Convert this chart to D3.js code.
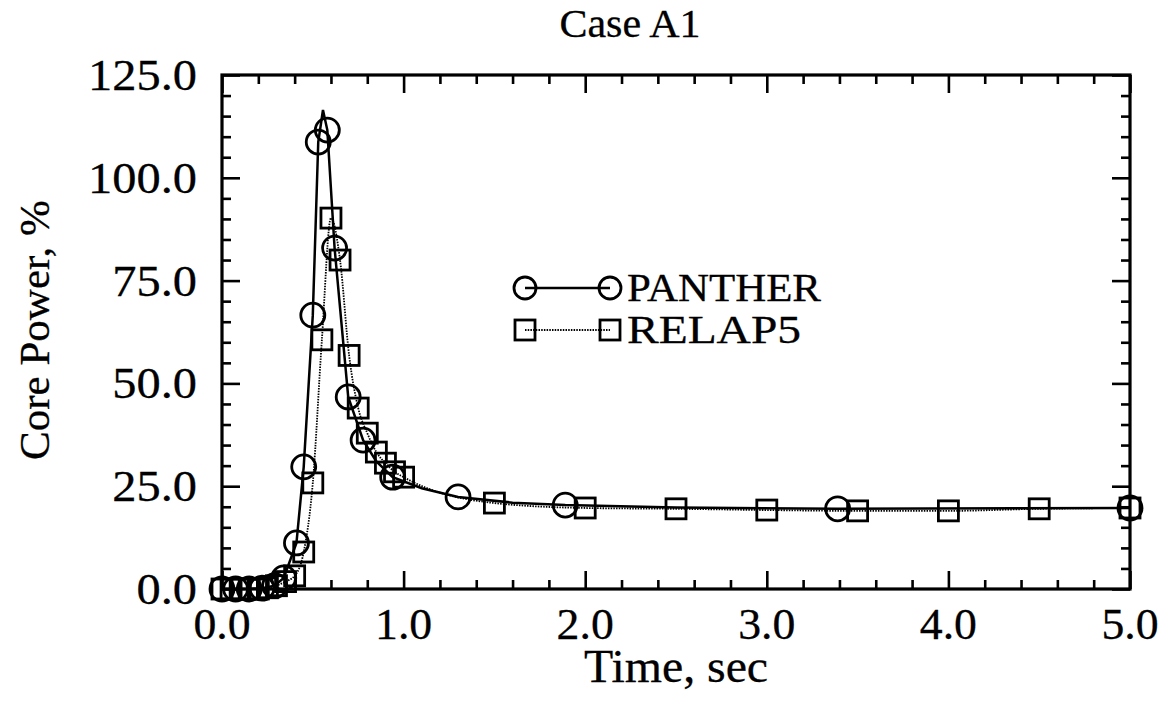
<!DOCTYPE html>
<html><head><meta charset="utf-8">
<script src="https://cdn.jsdelivr.net/npm/d3@7"></script>
<style>body{margin:0;background:#fff}</style>
</head><body><svg id="c" width="1169" height="702"></svg>
<script>
// PANTHER curve (solid line) and the flags of which vertices carry a circle marker
const pantherTime  = [0, 0.075, 0.15, 0.22, 0.29, 0.34, 0.41, 0.45, 0.50, 0.53, 0.556, 0.58, 0.62, 0.695, 0.777, 0.85, 0.94, 1.1, 1.3, 1.6, 1.89, 2.5, 3.39, 5.0];
const pantherPower = [0, 0, 0, 0.2, 0.8, 2.7, 11.2, 29.7, 66.6, 108.7, 116.5, 111.6, 82.9, 46.7, 36.2, 31.0, 27.2, 24.5, 22.4, 21.0, 20.4, 19.8, 19.5, 19.7];
const pantherMarked = [1, 1, 1, 1, 1, 1, 1, 1, 1, 1, 0, 1, 1, 1, 1, 0, 1, 0, 1, 0, 1, 0, 1, 1];
// RELAP5 (dotted line, square markers)
const relapTime  = [0, 0.05, 0.1, 0.15, 0.2, 0.25, 0.3, 0.35, 0.4, 0.45, 0.5, 0.55, 0.6, 0.65, 0.7, 0.75, 0.8, 0.85, 0.9, 0.95, 1.0, 1.5, 2.0, 2.5, 3.0, 3.5, 4.0, 4.5, 5.0];
const relapPower = [0, 0, 0, 0, 0, 0.3, 0.8, 1.8, 3.2, 9.0, 25.8, 60.6, 90.2, 80.0, 56.8, 44.0, 37.9, 33.3, 30.6, 28.5, 27.2, 20.9, 19.7, 19.5, 19.2, 19.0, 19.0, 19.5, 19.7];
const xTicks = [0, 1, 2, 3, 4, 5];
const xTickLabels = ["0.0", "1.0", "2.0", "3.0", "4.0", "5.0"];
const yTicks = [0, 25, 50, 75, 100, 125];
const yTickLabels = ["0.0", "25.0", "50.0", "75.0", "100.0", "125.0"];
const seriesNames = ["PANTHER", "RELAP5"];
const titleText = "Case A1";
const xTitle = "Time, sec";
const yTitle = "Core Power, %";

const FONT = "'Liberation Serif','Times New Roman',serif";
const svg = d3.select("#c");
const L = 222, R = 1130, T = 75, B = 589;
const x = d3.scaleLinear().domain([0, 5]).range([L, R]);
const y = d3.scaleLinear().domain([0, 125]).range([B, T]);

const xMinor = d3.range(0, 5.0001, 0.2).filter(v => Math.abs(v - Math.round(v)) > 1e-6);
const yMinor = d3.range(0, 125.0001, 5).filter(v => v % 25 !== 0);

function tickAxis(axisFn, scale, vals, size, tr) {
  const g = svg.append("g").attr("transform", tr)
    .call(axisFn(scale).tickValues(vals).tickSize(-size).tickFormat(""));
  g.select(".domain").remove();
  g.selectAll("line").attr("stroke", "#000").attr("stroke-width", 2.6);
}
[[xMinor, 9], [xTicks, 18]].forEach(([v, s]) => {
  tickAxis(d3.axisBottom, x, v, s, `translate(0,${B})`);
  tickAxis(d3.axisTop, x, v, s, `translate(0,${T})`);
});
[[yMinor, 9], [yTicks, 18]].forEach(([v, s]) => {
  tickAxis(d3.axisLeft, y, v, s, `translate(${L},0)`);
  tickAxis(d3.axisRight, y, v, s, `translate(${R},0)`);
});
svg.append("rect").attr("x", L).attr("y", T).attr("width", R - L).attr("height", B - T)
  .attr("fill", "none").attr("stroke", "#000").attr("stroke-width", 3.2);

function txt(sel) {
  return sel.attr("font-family", FONT).attr("fill", "#000").attr("stroke", "#000").attr("stroke-width", 0.3);
}
// tick labels
svg.append("g").selectAll("text").data(xTicks).join("text")
  .attr("transform", d => `translate(${x(d)},639) scale(1.04,1)`)
  .attr("text-anchor", "middle").attr("font-size", 44).call(txt)
  .text((d, i) => xTickLabels[i]);
svg.append("g").selectAll("text").data(yTicks).join("text")
  .attr("transform", d => `translate(197,${y(d) + 15}) scale(1.1,1)`)
  .attr("text-anchor", "end").attr("font-size", 44).call(txt)
  .text((d, i) => yTickLabels[i]);

// titles
svg.append("text").attr("transform", "translate(630,37) scale(1.05,1)").attr("text-anchor", "middle")
  .attr("font-size", 40).call(txt).text(titleText);
svg.append("text").attr("transform", "translate(676,682) scale(1.04,1)").attr("text-anchor", "middle")
  .attr("font-size", 46).call(txt).text(xTitle);
svg.append("text").attr("transform", "translate(49,330) rotate(-90)").attr("text-anchor", "middle")
  .attr("font-size", 43).call(txt).text(yTitle);

// lines
const P = pantherTime.map((t, i) => ({t, v: pantherPower[i], m: pantherMarked[i]}));
const Q = relapTime.map((t, i) => ({t, v: relapPower[i]}));
const plot = svg.append("g");
plot.append("path").datum(Q)
  .attr("d", d3.line().x(d => x(d.t)).y(d => y(d.v)).curve(d3.curveMonotoneX))
  .attr("fill", "none").attr("stroke", "#000").attr("stroke-width", 1.8).attr("stroke-dasharray", "1.5,1.2");
plot.append("path").datum(P)
  .attr("d", d3.line().x(d => x(d.t)).y(d => y(d.v)))
  .attr("fill", "none").attr("stroke", "#000").attr("stroke-width", 2.5);
// markers
const SQ = 20, CR = 12;
plot.selectAll("rect.m").data(Q).join("rect").attr("class", "m")
  .attr("x", d => x(d.t) - SQ / 2).attr("y", d => y(d.v) - SQ / 2)
  .attr("width", SQ).attr("height", SQ)
  .attr("fill", "none").attr("stroke", "#000").attr("stroke-width", 2.8);
plot.selectAll("circle.m").data(P.filter(d => d.m)).join("circle").attr("class", "m")
  .attr("cx", d => x(d.t)).attr("cy", d => y(d.v)).attr("r", CR)
  .attr("fill", "none").attr("stroke", "#000").attr("stroke-width", 2.8);

// legend
const lg = svg.append("g");
const lx0 = 525, lx1 = 610, ly = [288, 330];
lg.append("line").attr("x1", lx0).attr("x2", lx1).attr("y1", ly[0]).attr("y2", ly[0])
  .attr("stroke", "#000").attr("stroke-width", 2.5);
[lx0, lx1].forEach(cx => lg.append("circle").attr("cx", cx).attr("cy", ly[0]).attr("r", 11)
  .attr("fill", "none").attr("stroke", "#000").attr("stroke-width", 2.8));
lg.append("line").attr("x1", lx0).attr("x2", lx1).attr("y1", ly[1]).attr("y2", ly[1])
  .attr("stroke", "#000").attr("stroke-width", 1.8).attr("stroke-dasharray", "1.5,1.2");
[lx0, lx1].forEach(cx => lg.append("rect").attr("x", cx - 10).attr("y", ly[1] - 10)
  .attr("width", 20).attr("height", 20)
  .attr("fill", "none").attr("stroke", "#000").attr("stroke-width", 2.8));
const legendWidths = [194, 174];
seriesNames.forEach((n, i) => lg.append("text").attr("x", 627).attr("y", ly[i] + 13)
  .attr("font-size", 40).attr("textLength", legendWidths[i]).attr("lengthAdjust", "spacingAndGlyphs")
  .call(txt).text(n));
</script></body></html>
